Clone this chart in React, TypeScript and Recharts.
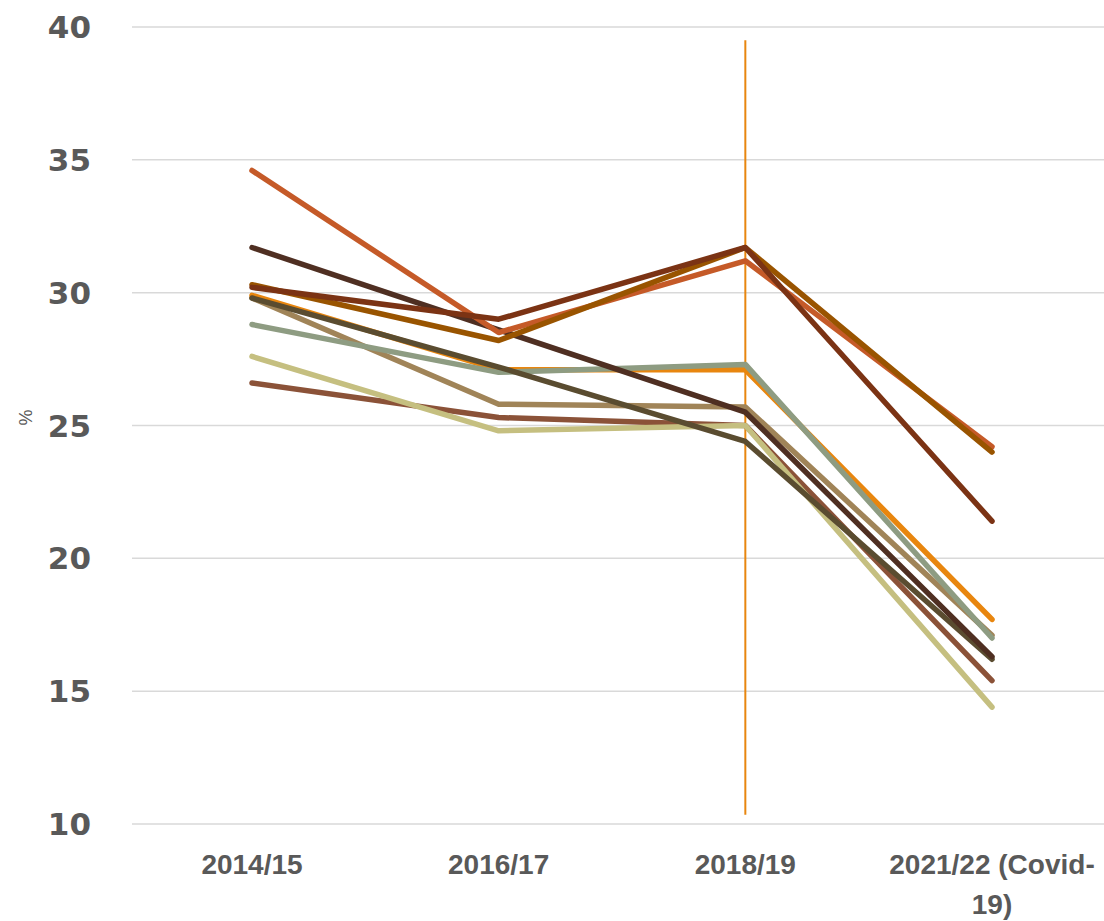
import { LineChart, Line, XAxis, YAxis, CartesianGrid, ReferenceLine } from 'recharts'

const categories = ['2014/15', '2016/17', '2018/19', '2021/22 (Covid-19)']

const seriesA = [34.6, 28.5, 31.2, 24.2]
const seriesB = [31.7, 28.6, 25.5, 16.3]
const seriesC = [30.2, 29.0, 31.7, 21.4]
const seriesD = [30.3, 28.2, 31.7, 24.0]
const seriesE = [29.9, 27.1, 27.1, 17.7]
const seriesF = [28.8, 27.0, 27.3, 17.0]
const seriesG = [29.8, 27.2, 24.4, 16.2]
const seriesH = [29.8, 25.8, 25.7, 17.1]
const seriesI = [27.6, 24.8, 25.0, 14.4]
const seriesJ = [26.6, 25.3, 25.0, 15.4]

const yTicks = [10, 15, 20, 25, 30, 35, 40]

const series = [
  { key: 'j', values: seriesJ, color: '#8B5238' },
  { key: 'i', values: seriesI, color: '#C5BF80' },
  { key: 'h', values: seriesH, color: '#A08458' },
  { key: 'e', values: seriesE, color: '#E8860F' },
  { key: 'f', values: seriesF, color: '#8E9C82' },
  { key: 'g', values: seriesG, color: '#5A4C30' },
  { key: 'b', values: seriesB, color: '#4F2F22' },
  { key: 'a', values: seriesA, color: '#C55A28' },
  { key: 'd', values: seriesD, color: '#995400' },
  { key: 'c', values: seriesC, color: '#7B3314' },
]

const data = categories.map((cat, i) => {
  const row: Record<string, string | number> = { cat }
  series.forEach(s => { row[s.key] = s.values[i] })
  return row
})

const XTick = ({ x, y, payload }: any) => {
  const label: string = payload.value
  const lines = label.includes('(Covid') ? ['2021/22 (Covid-', '19)'] : [label]
  return (
    <text x={x} y={y} textAnchor="middle" fill="#595959"
      style={{ fontFamily: '"Liberation Sans", sans-serif', fontWeight: 700, fontSize: 28 }}>
      {lines.map((l, i) => (
        <tspan key={i} x={x} dy={i === 0 ? 42 : 40}>{l}</tspan>
      ))}
    </text>
  )
}

const YTick = ({ x, y, payload }: any) => (
  <text x={x - 33} y={y} dy={11} textAnchor="end" fill="#595959"
    style={{ fontFamily: '"DejaVu Sans", sans-serif', fontWeight: 700, fontSize: 31 }}>
    {payload.value}
  </text>
)

export default function App() {
  return (
    <div style={{ position: 'absolute', left: 0, top: 0, width: 1104, height: 921, overflow: 'hidden', background: '#fff' }}>
      <LineChart width={1112} height={921} data={data} margin={{ top: 27, right: 0, bottom: 0, left: 0 }}>
        <CartesianGrid vertical={false} stroke="#d9d9d9" strokeWidth={1.5} />
        <XAxis dataKey="cat" axisLine={false} tickLine={false} height={97} tick={<XTick />} interval={0}
          padding={{ left: 120, right: 120 }} />
        <YAxis domain={[10, 40]} ticks={yTicks} width={132} axisLine={false} tickLine={false} tick={<YTick />}
          label={{ value: '%', angle: -90, position: 'insideLeft', offset: 26, fill: '#595959', fontSize: 18, fontFamily: '"Liberation Sans", sans-serif' }} />
        <ReferenceLine segment={[{ x: '2018/19', y: 39.5 }, { x: '2018/19', y: 10.35 }]} stroke="#E8860F" strokeWidth={2} />
        {series.map(s => (
          <Line key={s.key} dataKey={s.key} stroke={s.color} strokeWidth={5.5} strokeLinecap="round" strokeLinejoin="round"
            dot={false} activeDot={false} isAnimationActive={false} />
        ))}
      </LineChart>
    </div>
  )
}
